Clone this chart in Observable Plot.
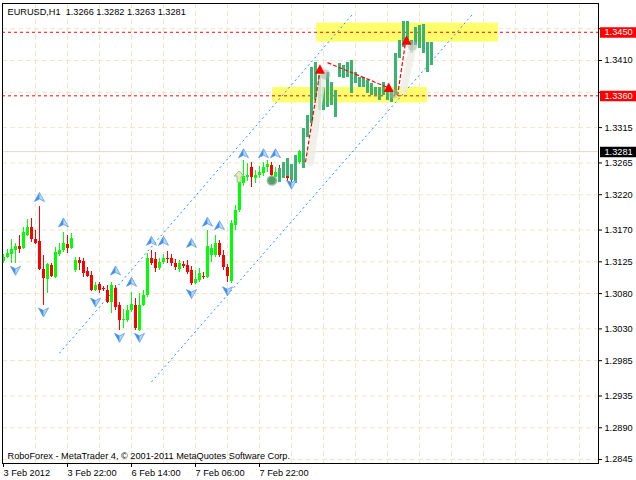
<!DOCTYPE html>
<html><head><meta charset="utf-8">
<script src="https://cdn.jsdelivr.net/npm/d3@7"></script>
<script src="https://cdn.jsdelivr.net/npm/@observablehq/plot@0.6"></script>
<style>html,body{margin:0;padding:0;background:#fff}svg{display:block}</style>
</head><body><div id="chart"></div>
<script>
// ---- Data (bar index = hourly bar from 3 Feb 2012 06:00) ----
const opens = [1.3125,1.3131,1.3135,1.3141,1.3147,1.3144,1.3162,1.3174,1.3157,1.3154,
1.3114,1.3100,1.3120,1.3103,1.3135,1.3141,1.3150,1.3144,1.3113,1.3127,
1.3125,1.3111,1.3106,1.3084,1.3093,1.3087,1.3084,1.3067,1.3087,1.3063,
1.3042,1.3042,1.3056,1.3063,1.3028,1.3063,1.3077,1.3130,1.3128,1.3116,
1.3124,1.3130,1.3130,1.3123,1.3114,1.3121,1.3120,1.3113,1.3094,1.3099,
1.3104,1.3103,1.3134,1.3134,1.3151,1.3134,1.3117,1.3097,1.3176,1.3198,
1.3236,1.3244,1.3259,1.3243,1.3247,1.3250,1.3259,1.3261,1.3244,1.3254,
1.3246,1.3254,1.3247,1.3243,1.3266];
const highs = [1.3135,1.3142,1.3157,1.3151,1.3162,1.3174,1.3185,1.3186,1.3169,1.3203,
1.3134,1.3123,1.3123,1.3145,1.3151,1.3166,1.3162,1.3165,1.3131,1.3131,
1.3130,1.3117,1.3111,1.3096,1.3096,1.3090,1.3092,1.3096,1.3092,1.3067,
1.3057,1.3063,1.3082,1.3073,1.3080,1.3084,1.3137,1.3141,1.3138,1.3130,
1.3135,1.3140,1.3135,1.3128,1.3127,1.3125,1.3127,1.3118,1.3113,1.3116,
1.3110,1.3169,1.3150,1.3162,1.3155,1.3141,1.3121,1.3183,1.3205,1.3251,
1.3268,1.3264,1.3266,1.3254,1.3260,1.3266,1.3268,1.3266,1.3259,1.3261,
1.3259,1.3260,1.3253,1.3268,1.3282];
const lows = [1.3123,1.3130,1.3123,1.3123,1.3137,1.3142,1.3161,1.3152,1.3150,1.3113,
1.3063,1.3080,1.3103,1.3101,1.3132,1.3138,1.3137,1.3142,1.3110,1.3113,
1.3103,1.3103,1.3083,1.3083,1.3080,1.3083,1.3066,1.3052,1.3056,1.3028,
1.3031,1.3039,1.3053,1.3028,1.3026,1.3062,1.3074,1.3120,1.3110,1.3113,
1.3121,1.3123,1.3118,1.3113,1.3110,1.3116,1.3107,1.3092,1.3093,1.3096,
1.3100,1.3101,1.3124,1.3131,1.3131,1.3113,1.3096,1.3094,1.3169,1.3195,
1.3232,1.3239,1.3230,1.3236,1.3243,1.3246,1.3251,1.3240,1.3239,1.3242,
1.3243,1.3239,1.3237,1.3240,1.3263];
const closes = [1.3131,1.3137,1.3142,1.3147,1.3142,1.3166,1.3174,1.3157,1.3151,1.3114,
1.3101,1.3121,1.3104,1.3138,1.3141,1.3151,1.3144,1.3158,1.3127,1.3123,
1.3108,1.3104,1.3084,1.3092,1.3084,1.3086,1.3067,1.3092,1.3060,1.3042,
1.3043,1.3056,1.3065,1.3031,1.3063,1.3077,1.3130,1.3123,1.3116,1.3124,
1.3130,1.3128,1.3123,1.3117,1.3123,1.3118,1.3110,1.3094,1.3100,1.3108,
1.3103,1.3147,1.3144,1.3151,1.3134,1.3117,1.3104,1.3179,1.3198,1.3240,
1.3246,1.3247,1.3244,1.3247,1.3251,1.3259,1.3263,1.3247,1.3251,1.3246,
1.3254,1.3243,1.3243,1.3264,1.3281];

// forecast bars drawn by the analyst
const fcBars = [69,70,71,72,73,75,76,77,78,79,80,81,82,83,84,85,86,87,88,89,90,91,92,93,94,95,96,97,98,99,100,101,102,103,104,105,106,107];
const fcHigh = [1.3257,1.3266,1.3271,1.3263,1.3276,1.3314,1.3332,1.3400,1.3407,1.3389,1.3372,1.3393,1.3379,1.3368,1.3406,1.3403,1.3407,1.3410,1.3393,1.3386,1.3386,1.3382,1.3377,1.3372,1.3372,1.3379,1.3370,1.3368,1.3420,1.3438,1.3465,1.3465,1.3438,1.3457,1.3460,1.3461,1.3436,1.3436];
const fcLow = [1.3237,1.3243,1.3246,1.3240,1.3236,1.3257,1.3301,1.3321,1.3353,1.3339,1.3339,1.3343,1.3346,1.3329,1.3386,1.3385,1.3386,1.3363,1.3377,1.3372,1.3372,1.3363,1.3360,1.3360,1.3353,1.3360,1.3353,1.3351,1.3360,1.3413,1.3428,1.3438,1.3420,1.3431,1.3427,1.3420,1.3393,1.3403];

// fractals
const upFractalBars = [9,15,28,32,37,40,47,51,54,60,65,68];
const upFractalPrices = [1.3216,1.3180,1.3112,1.3096,1.3154,1.3154,1.3151,1.3181,1.3176,1.3278,1.3278,1.3278];
const downFractalBars = [3,10,23,29,34,47,56,72];
const downFractalPrices = [1.3113,1.3054,1.3068,1.3018,1.3018,1.3080,1.3084,1.3235];

// channel lines
const chanK1 = [14,37], chanP1 = [1.29955,1.2955], chanK2 = [87.5,117.5], chanP2 = [1.3477,1.3477];
// red dashed forecast path
const pathK1 = [75.5,81,98.5], pathP1 = [1.3266,1.3407,1.3360], pathK2 = [79.25,96,100.5], pathP2 = [1.3399,1.3372,1.3436];
// shaded bands
const bandK1 = [76.75,100], bandP1 = [1.3266,1.3368], bandK2 = [80,102.25], bandP2 = [1.3396,1.3428];
// red triangles and their shadows
const triK = [79.1,96.3,100.75], triP = [1.3397,1.3371,1.3438];
const shadowK = [80.5,97.5,102.25], shadowP = [1.3390,1.3363,1.3431];
// yellow zones
const zoneK1 = [78.25,67.25], zoneK2 = [123.75,106], zoneP1 = [1.3436,1.3350], zoneP2 = [1.3463,1.3372];
// levels
const levels = [1.3450,1.3360];
const lastPrice = 1.3281;
const dotK = [67.1], dotP = [1.3240];
const hollowK = [58.9], hollowP = [1.3245];

// axis ticks (1.3455 and 1.3365 sit under the level boxes)
const yTicks = [1.3455,1.3410,1.3365,1.3315,1.3265,1.3220,1.3170,1.3125,1.3080,1.3030,1.2985,1.2935,1.2890,1.2845];
const hiddenTicks = [1.3455,1.3365];
const tickBars = [0,16,32,48,64];
const tickLabels = ["3 Feb 2012","3 Feb 22:00","6 Feb 14:00","7 Feb 06:00","7 Feb 22:00"];
const gridBars = [8,16,24,32,40,48,56,64,72,80,88,96,104,112,120,128,136,144];
const titleText = "EURUSD,H1 \u00a01.3266 1.3282 1.3263 1.3281";
const captionText = "RoboForex - MetaTrader 4, \u00a9 2001-2011 MetaQuotes Software Corp.";

// ---- build tables ----
const candles = opens.map((o,i)=>({k:i, open:o, high:highs[i], low:lows[i], close:closes[i]}));
const bull = candles.filter(d=>d.close>=d.open), bear = candles.filter(d=>d.close<d.open);
const fc = fcBars.map((k,i)=>({k, high:fcHigh[i], low:fcLow[i]}));
const ups = upFractalBars.map((k,i)=>({k,p:upFractalPrices[i]}));
const downs = downFractalBars.map((k,i)=>({k,p:downFractalPrices[i]}));
const chans = chanK1.map((k,i)=>({k1:k,p1:chanP1[i],k2:chanK2[i],p2:chanP2[i]}));
const paths = pathK1.map((k,i)=>({k1:k,p1:pathP1[i],k2:pathK2[i],p2:pathP2[i]}));
const bands = bandK1.map((k,i)=>({k1:k,p1:bandP1[i],k2:bandK2[i],p2:bandP2[i]}));
const tris = triK.map((k,i)=>({k,p:triP[i]}));
const shadows = shadowK.map((k,i)=>({k,p:shadowP[i]}));
const zones = zoneK1.map((k,i)=>({k1:k,k2:zoneK2[i],p1:zoneP1[i],p2:zoneP2[i]}));

// ---- symbols ----
const sym = pts => ({draw(ctx){ctx.moveTo(pts[0][0],pts[0][1]); for(let i=1;i<pts.length;i++) ctx.lineTo(pts[i][0],pts[i][1]); ctx.closePath();}});
const upL = sym([[0,-5],[0,1.5],[-5,4]]), upR = sym([[0,-5],[5,4],[0,1.5]]), upAll = sym([[0,-5],[5,4],[0,1.5],[-5,4]]);
const dnL = sym([[0,5],[0,-1.5],[-5,-4]]), dnR = sym([[0,5],[5,-4],[0,-1.5]]), dnAll = sym([[0,5],[5,-4],[0,-1.5],[-5,-4]]);
const triSym = sym([[0,-5.5],[5,4],[-5,4]]);
const boxSym = sym([[1.5,-5],[38,-5],[38,5.5],[1.5,5.5]]);
const hollowSym = sym([[0,-6],[5,-1],[2,-1],[2,5],[-2,5],[-2,-1],[-5,-1]]);

const fmt = d=>d.toFixed(4);

const plot = Plot.plot({
  width:636, height:480,
  marginLeft:2, marginRight:38, marginTop:3, marginBottom:17,
  style:{fontFamily:"'Liberation Sans', Arial, sans-serif", fontSize:"9.2px", background:"#fff", color:"#000", overflow:"visible"},
  x:{type:"linear", domain:[-0.25,148.75], label:null},
  y:{type:"linear", domain:[1.283939,1.349075], label:null},
  marks:[
    Plot.gridY(yTicks,{stroke:"#ebe7c8", strokeOpacity:1, strokeDasharray:"5,3"}),
    Plot.gridX(gridBars,{stroke:"#ebe7c8", strokeOpacity:1, strokeDasharray:"5,3"}),
    Plot.rect(zones,{x1:"k1",x2:"k2",y1:"p1",y2:"p2",fill:"#ffff6e"}),
    Plot.ruleY([lastPrice],{stroke:"#dcd9cc"}),
    Plot.ruleY(levels,{stroke:"#ff0000", strokeDasharray:"3,3"}),
    Plot.link(chans,{x1:"k1",y1:"p1",x2:"k2",y2:"p2",stroke:"#1e90ff",strokeDasharray:"2,3"}),
    Plot.ruleX(bull,{x:"k",y1:"low",y2:"high",stroke:"#00ff00",shapeRendering:"crispEdges"}),
    Plot.ruleX(bear,{x:"k",y1:"low",y2:"high",stroke:"#ff0000",shapeRendering:"crispEdges"}),
    Plot.ruleX(bull,{x:"k",y1:"open",y2:"close",stroke:"#00ff00",strokeWidth:3,shapeRendering:"crispEdges"}),
    Plot.ruleX(bear,{x:"k",y1:"open",y2:"close",stroke:"#ff0000",strokeWidth:3,shapeRendering:"crispEdges"}),
    Plot.ruleX(fc,{x:"k",y1:"low",y2:"high",stroke:"#3cb371",strokeWidth:3,shapeRendering:"crispEdges"}),
    Plot.link(bands,{x1:"k1",y1:"p1",x2:"k2",y2:"p2",stroke:"#ecece4",strokeWidth:7,strokeOpacity:0.8,strokeLinecap:"round"}),
    Plot.link(paths,{x1:"k1",y1:"p1",x2:"k2",y2:"p2",stroke:"#ff0000",strokeWidth:1.2,strokeDasharray:"4,2"}),
    Plot.dot(shadows,{x:"k",y:"p",r:5,fill:"#9fb3a6",fillOpacity:0.5,stroke:"none"}),
    Plot.dot(tris,{x:"k",y:"p",symbol:triSym,fill:"#ff0000",stroke:"none"}),
    Plot.dot(ups,{x:"k",y:"p",symbol:upR,fill:"#b9d8f8",stroke:"none"}),
    Plot.dot(ups,{x:"k",y:"p",symbol:upL,fill:"#3f8ff0",stroke:"none"}),
    Plot.dot(ups,{x:"k",y:"p",symbol:upAll,fill:"none",stroke:"#4c95ea",strokeWidth:0.7}),
    Plot.dot(downs,{x:"k",y:"p",symbol:dnR,fill:"#b9d8f8",stroke:"none"}),
    Plot.dot(downs,{x:"k",y:"p",symbol:dnL,fill:"#3f8ff0",stroke:"none"}),
    Plot.dot(downs,{x:"k",y:"p",symbol:dnAll,fill:"none",stroke:"#4c95ea",strokeWidth:0.7}),
    Plot.dot(dotK.map((k,i)=>({k,p:dotP[i]})),{x:"k",y:"p",r:4.5,fill:"#55a06a",stroke:"#8cbf96"}),
    Plot.dot(hollowK.map((k,i)=>({k,p:hollowP[i]})),{x:"k",y:"p",symbol:hollowSym,fill:"#f6e2bd",stroke:"#7fcf7f",strokeWidth:1}),
    Plot.frame({stroke:"#000"}),
    Plot.axisY(yTicks,{anchor:"right",tickSize:3,tickPadding:3,tickFormat:d=>hiddenTicks.includes(d)?"":fmt(d),label:null,fill:"#000"}),
    Plot.axisX(tickBars,{anchor:"bottom",tickSize:4,tickPadding:2,tickFormat:d=>tickLabels[tickBars.indexOf(d)],textAnchor:"start",label:null,fill:"#000"}),
    Plot.dot(levels,{y:d=>d,frameAnchor:"right",symbol:boxSym,fill:"#ff0000",stroke:"none"}),
    Plot.text(levels,{y:d=>d,frameAnchor:"right",text:fmt,textAnchor:"start",dx:6,fill:"#fff"}),
    Plot.dot([lastPrice],{y:d=>d,frameAnchor:"right",symbol:boxSym,fill:"#000",stroke:"none"}),
    Plot.text([lastPrice],{y:d=>d,frameAnchor:"right",text:fmt,textAnchor:"start",dx:6,fill:"#fff"}),
    Plot.text([titleText],{frameAnchor:"top-left",text:d=>d,dx:5,dy:5,lineAnchor:"top",textAnchor:"start",fill:"#000"}),
    Plot.text([captionText],{frameAnchor:"bottom-left",text:d=>d,dx:5,dy:-4.5,lineAnchor:"bottom",textAnchor:"start",fill:"#000"})
  ]
});
document.getElementById("chart").append(plot);
</script>
</body></html>
